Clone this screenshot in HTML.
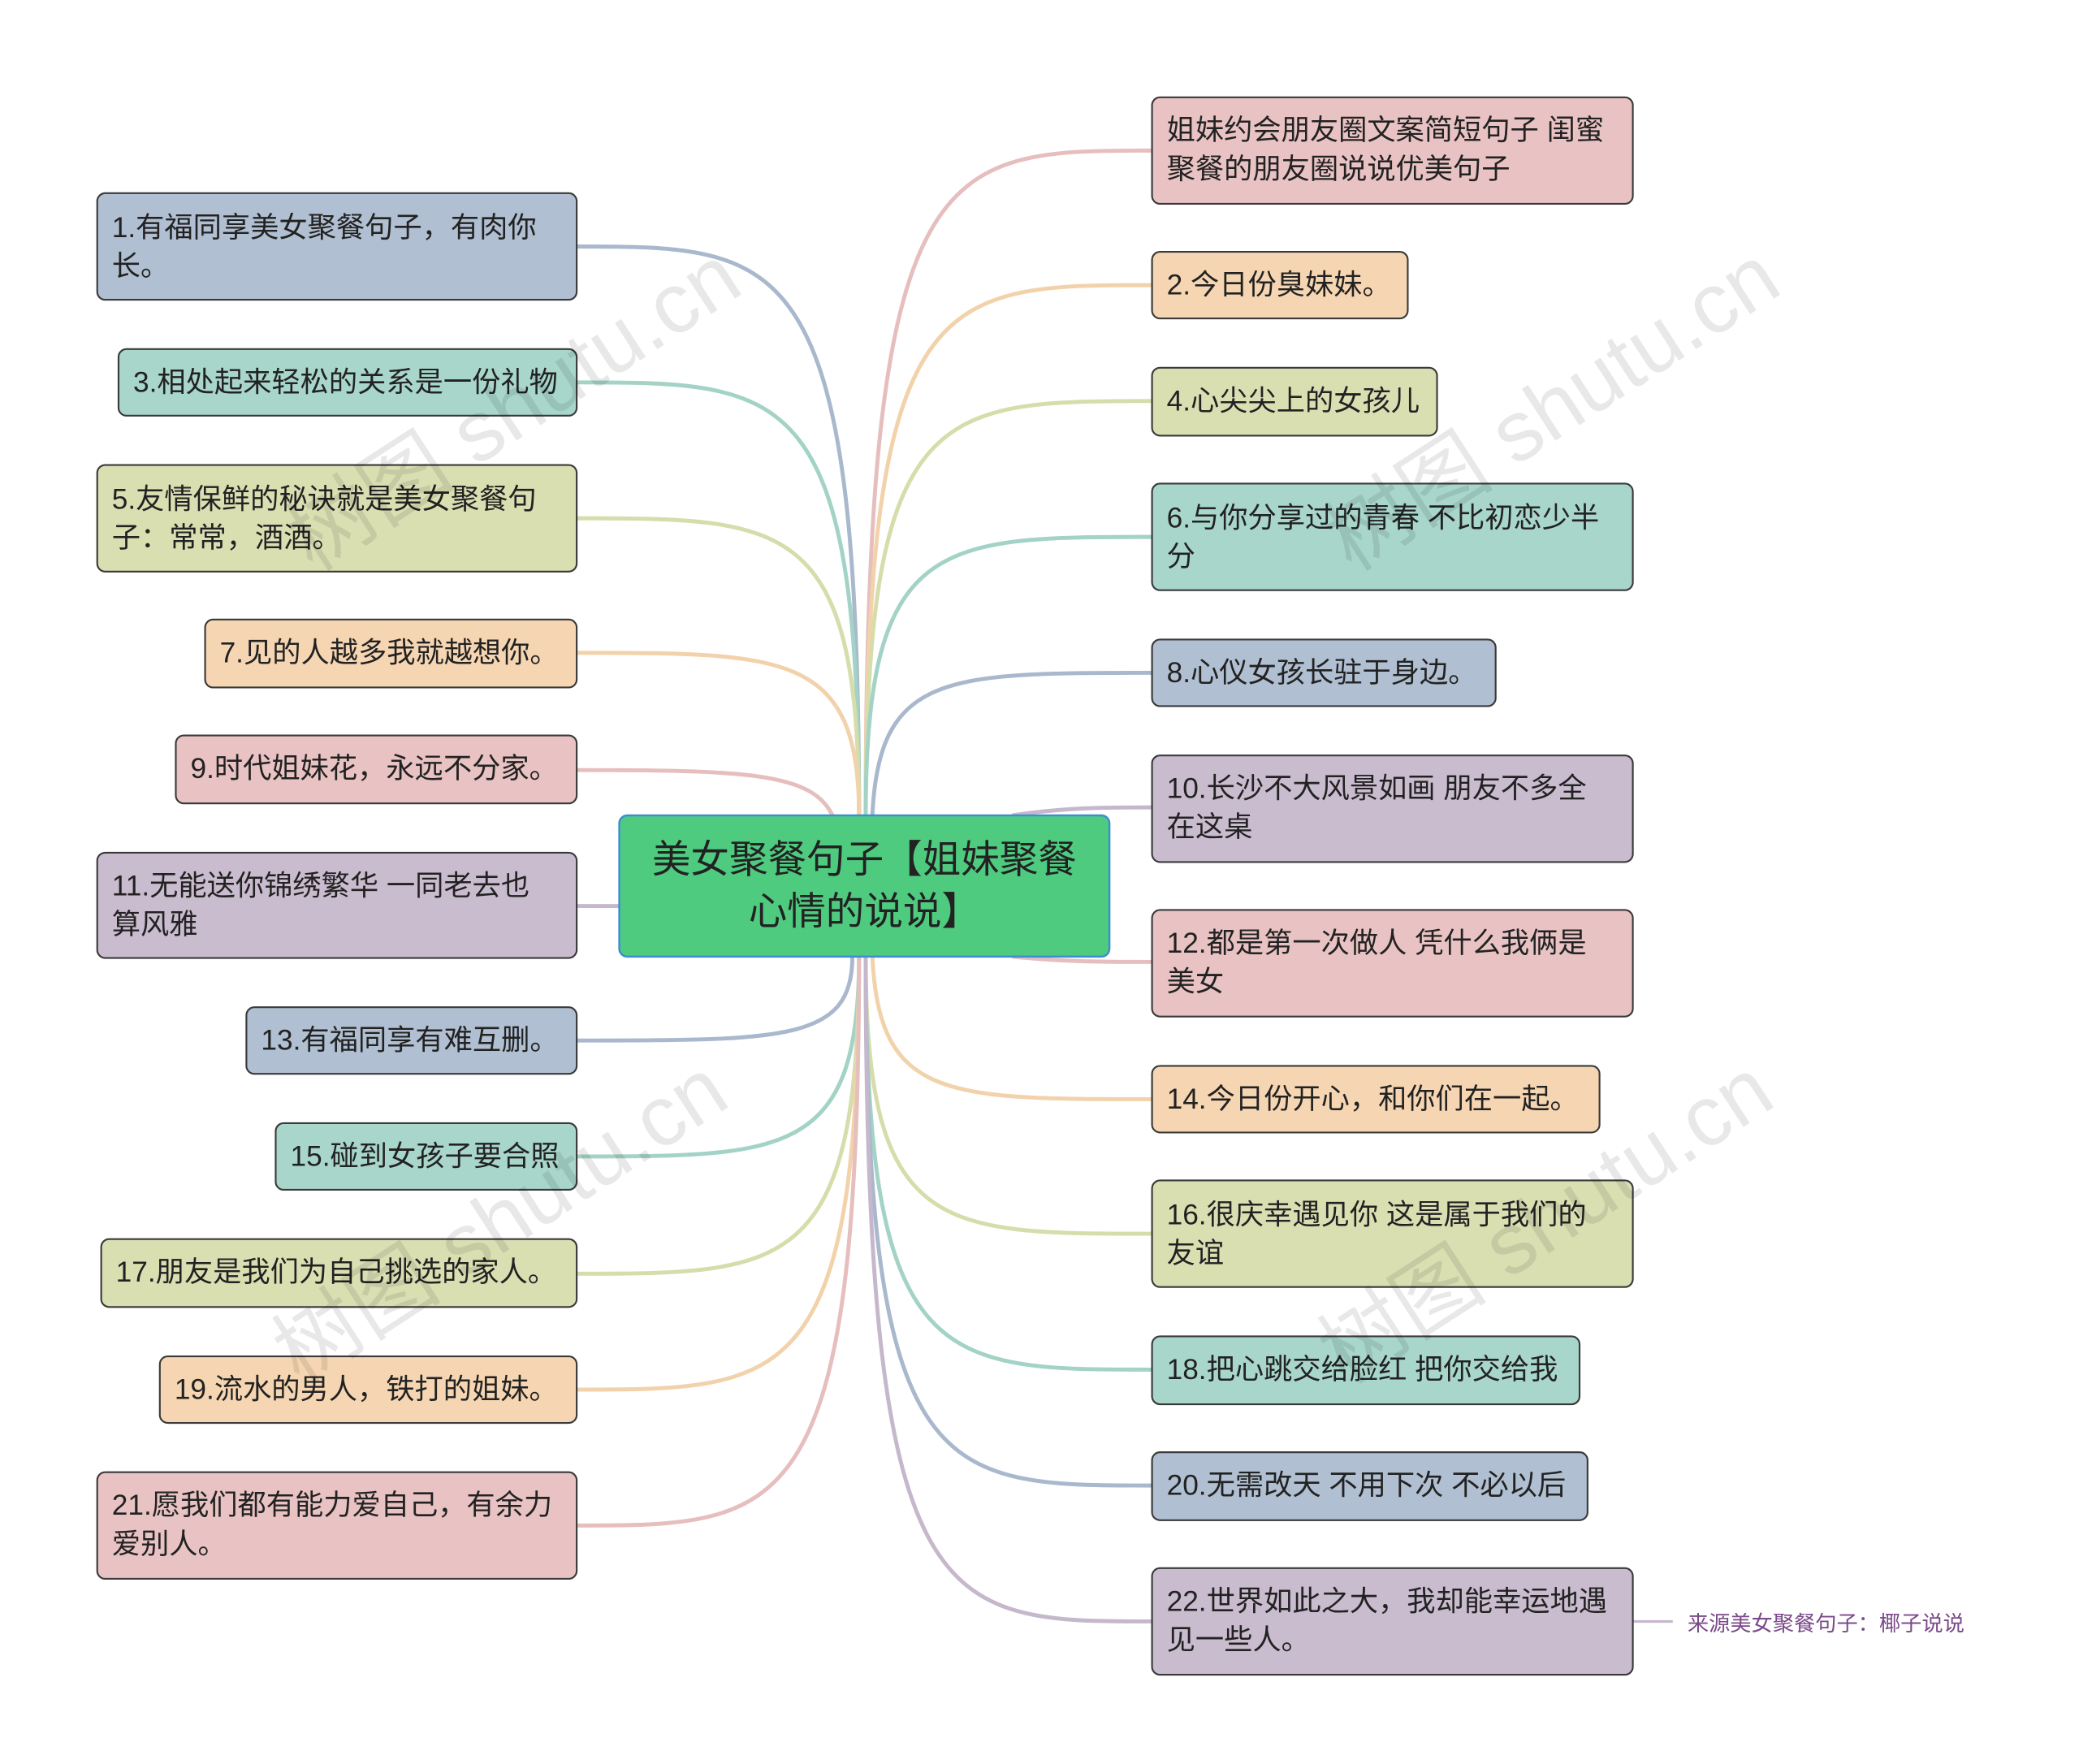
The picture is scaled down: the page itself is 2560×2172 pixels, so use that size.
<!DOCTYPE html>
<html><head><meta charset="utf-8"><style>
html,body{margin:0;padding:0;background:#fff;}
svg{display:block;}
text{font-family:"Liberation Sans","Noto Sans CJK SC",sans-serif;}
</style></head><body>
<svg width="2560" height="2172" viewBox="0 0 1561 1324" preserveAspectRatio="none" xmlns="http://www.w3.org/2000/svg">
<g fill="none" stroke-width="3">
<path d="M645 612 C645 185,590 185,433 185" stroke="#A9B8CC"/>
<path d="M645 612 C645 287,590 287,433 287" stroke="#A3D2C6"/>
<path d="M645 612 C645 389,590 389,433 389" stroke="#D6DCAA"/>
<path d="M645 612 C645 490,590 490,433 490" stroke="#F2D2AA"/>
<path d="M625 612 C610 580,560 578,433 578" stroke="#E6BEBE"/>
<path d="M465 680 L433 680" stroke="#C6B8CC"/>
<path d="M640 718 C640 781,590 781,433 781" stroke="#A9B8CC"/>
<path d="M645 718 C645 868,590 868,433 868" stroke="#A3D2C6"/>
<path d="M645 718 C645 956,590 956,433 956" stroke="#D6DCAA"/>
<path d="M645 718 C645 1043,590 1043,433 1043" stroke="#F2D2AA"/>
<path d="M645 718 C645 1145,590 1145,433 1145" stroke="#E6BEBE"/>
<path d="M650 612 C650 113,705 113,865 113" stroke="#E6BEBE"/>
<path d="M650 612 C650 214,705 214,865 214" stroke="#F2D2AA"/>
<path d="M650 612 C650 301,705 301,865 301" stroke="#D6DCAA"/>
<path d="M650 612 C650 403,705 403,865 403" stroke="#A3D2C6"/>
<path d="M655 612 C660 505,710 505,865 505" stroke="#A9B8CC"/>
<path d="M760 612 C800 606,830 606,865 606" stroke="#C6B8CC"/>
<path d="M760 718 C800 722,830 722,865 722" stroke="#E6BEBE"/>
<path d="M655 718 C660 825,710 825,865 825" stroke="#F2D2AA"/>
<path d="M650 718 C650 926,705 926,865 926" stroke="#D6DCAA"/>
<path d="M650 718 C650 1028,705 1028,865 1028" stroke="#A3D2C6"/>
<path d="M650 718 C650 1115,705 1115,865 1115" stroke="#A9B8CC"/>
<path d="M650 718 C650 1217,705 1217,865 1217" stroke="#C6B8CC"/>
<path d="M1226 1217 L1256 1217" stroke="#C6B8CC" stroke-width="2"/>
</g>
<g stroke="#3a3a3a" stroke-width="1.3">
<rect x="73" y="145" width="360" height="80" rx="6" fill="#B0BFD1"/>
<rect x="89" y="262" width="344" height="50" rx="6" fill="#A8D6CA"/>
<rect x="73" y="349" width="360" height="80" rx="6" fill="#DADFB2"/>
<rect x="154" y="465" width="279" height="51" rx="6" fill="#F6D6B2"/>
<rect x="132" y="552" width="301" height="51" rx="6" fill="#E9C3C3"/>
<rect x="73" y="640" width="360" height="79" rx="6" fill="#CABCCF"/>
<rect x="185" y="756" width="248" height="50" rx="6" fill="#B0BFD1"/>
<rect x="207" y="843" width="226" height="50" rx="6" fill="#A8D6CA"/>
<rect x="76" y="930" width="357" height="51" rx="6" fill="#DADFB2"/>
<rect x="120" y="1018" width="313" height="50" rx="6" fill="#F6D6B2"/>
<rect x="73" y="1105" width="360" height="80" rx="6" fill="#E9C3C3"/>
<rect x="865" y="73" width="361" height="80" rx="6" fill="#E9C3C3"/>
<rect x="865" y="189" width="192" height="50" rx="6" fill="#F6D6B2"/>
<rect x="865" y="276" width="214" height="51" rx="6" fill="#DADFB2"/>
<rect x="865" y="363" width="361" height="80" rx="6" fill="#A8D6CA"/>
<rect x="865" y="480" width="258" height="50" rx="6" fill="#B0BFD1"/>
<rect x="865" y="567" width="361" height="80" rx="6" fill="#CABCCF"/>
<rect x="865" y="683" width="361" height="80" rx="6" fill="#E9C3C3"/>
<rect x="865" y="800" width="336" height="50" rx="6" fill="#F6D6B2"/>
<rect x="865" y="886" width="361" height="80" rx="6" fill="#DADFB2"/>
<rect x="865" y="1003" width="321" height="51" rx="6" fill="#A8D6CA"/>
<rect x="865" y="1090" width="327" height="51" rx="6" fill="#B0BFD1"/>
<rect x="865" y="1177" width="361" height="80" rx="6" fill="#CABCCF"/>
</g>
<rect x="465" y="612" width="368" height="106" rx="6" fill="#4FCB80" stroke="#3C8ED0" stroke-width="1.5"/>
<g font-size="29" fill="#222" text-anchor="middle">
<text x="649" y="655">美女聚餐句子【姐妹聚餐</text>
<text x="649" y="694">心情的说说】</text>
</g>
<g font-size="21.5" fill="#222">
<text x="84" y="178">1.有福同享美女聚餐句子，有肉你</text>
<text x="84" y="207">长。</text>
<text x="100" y="294">3.相处起来轻松的关系是一份礼物</text>
<text x="84" y="382">5.友情保鲜的秘诀就是美女聚餐句</text>
<text x="84" y="411">子：常常，酒酒。</text>
<text x="165" y="497">7.见的人越多我就越想你。</text>
<text x="143" y="584">9.时代姐妹花，永远不分家。</text>
<text x="84" y="672">11.无能送你锦绣繁华 一同老去也</text>
<text x="84" y="701">算风雅</text>
<text x="196" y="788">13.有福同享有难互删。</text>
<text x="218" y="875">15.碰到女孩子要合照</text>
<text x="87" y="962">17.朋友是我们为自己挑选的家人。</text>
<text x="131" y="1050">19.流水的男人，铁打的姐妹。</text>
<text x="84" y="1137">21.愿我们都有能力爱自己，有余力</text>
<text x="84" y="1166">爱别人。</text>
<text x="876" y="105">姐妹约会朋友圈文案简短句子 闺蜜</text>
<text x="876" y="134">聚餐的朋友圈说说优美句子</text>
<text x="876" y="221">2.今日份臭妹妹。</text>
<text x="876" y="308">4.心尖尖上的女孩儿</text>
<text x="876" y="396">6.与你分享过的青春 不比初恋少半</text>
<text x="876" y="425">分</text>
<text x="876" y="512">8.心仪女孩长驻于身边。</text>
<text x="876" y="599">10.长沙不大风景如画 朋友不多全</text>
<text x="876" y="628">在这桌</text>
<text x="876" y="715">12.都是第一次做人 凭什么我俩是</text>
<text x="876" y="744">美女</text>
<text x="876" y="832">14.今日份开心，和你们在一起。</text>
<text x="876" y="919">16.很庆幸遇见你 这是属于我们的</text>
<text x="876" y="948">友谊</text>
<text x="876" y="1035">18.把心跳交给脸红 把你交给我</text>
<text x="876" y="1122">20.无需改天 不用下次 不必以后</text>
<text x="876" y="1209">22.世界如此之大，我却能幸运地遇</text>
<text x="876" y="1238">见一些人。</text>
</g>
<text x="1267" y="1224" font-size="16" fill="#7B4A8A">来源美女聚餐句子：椰子说说</text>
<g font-size="64" fill="#000" fill-opacity="0.09" font-family="Liberation Serif, Noto Serif CJK SC, serif">
<text transform="translate(235,430) rotate(-33)">树图 shutu.cn</text>
<text transform="translate(1015,430) rotate(-33)">树图 shutu.cn</text>
<text transform="translate(225,1040) rotate(-33)">树图 shutu.cn</text>
<text transform="translate(1010,1040) rotate(-33)">树图 shutu.cn</text>
</g>
</svg>
</body></html>
